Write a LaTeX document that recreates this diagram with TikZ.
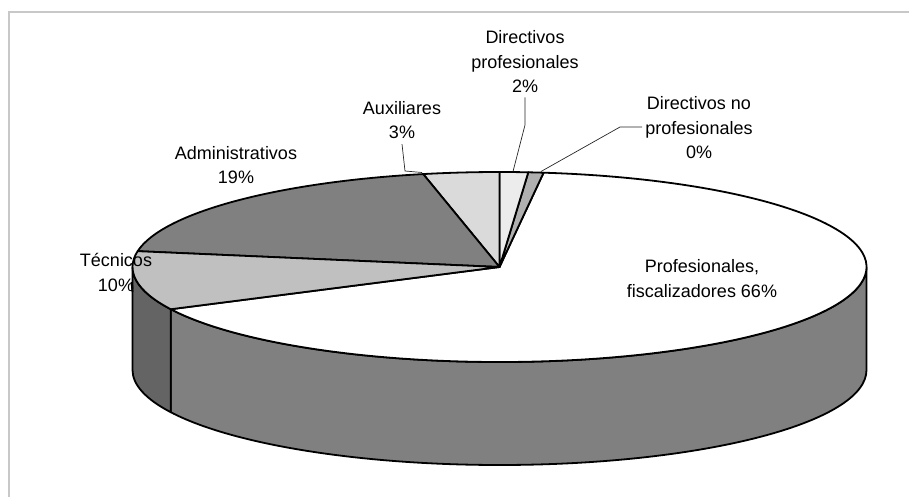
\documentclass[tikz,border=0pt]{standalone}
\usepackage{fontspec}
\setmainfont{Liberation Sans}
\definecolor{framegray}{RGB}{200,200,200}
\definecolor{admin}{RGB}{128,128,128}
\definecolor{tec}{RGB}{192,192,192}
\definecolor{aux}{RGB}{218,218,218}
\definecolor{dirp}{RGB}{236,236,236}
\definecolor{dirn}{RGB}{176,176,176}
\definecolor{sideprof}{RGB}{128,128,128}
\definecolor{sidetec}{RGB}{100,100,100}
\begin{document}
\begin{tikzpicture}[x=1pt,y=1pt,
  slice/.style={draw=black, line width=1.8pt, line join=round},
  lbl/.style={align=center, font=\fontsize{18}{24.5}\selectfont, inner sep=0pt, text=black},
  leader/.style={draw=black!85, line width=0.7pt},
  ell/.style={x radius=367pt, y radius=95pt}]
\useasboundingbox (0,0) rectangle (909,496);
\draw[line width=2.5pt, framegray] (9,-5) -- (9,484) -- (915,484);

\begin{scope}[shift={(499.5,229)}]
  % side walls
  \filldraw[slice, fill=sideprof] (206.4:367pt and 95pt) arc[start angle=206.4, end angle=360, ell]
    -- ++(0,-103) arc[start angle=360, end angle=206.4, ell] -- cycle;
  \filldraw[slice, fill=sidetec] (180:367pt and 95pt) arc[start angle=180, end angle=206.4, ell]
    -- ++(0,-103) arc[start angle=206.4, end angle=180, ell] -- cycle;
  % top slices
  \filldraw[slice, fill=white] (0,0) -- (-153.6:367pt and 95pt) arc[start angle=-153.6, end angle=83.1, ell] -- cycle;
  \filldraw[slice, fill=dirn] (0,0) -- (83.1:367pt and 95pt) arc[start angle=83.1, end angle=85.5, ell] -- cycle;
  \filldraw[slice, fill=dirp] (0,0) -- (85.5:367pt and 95pt) arc[start angle=85.5, end angle=90, ell] -- cycle;
  \filldraw[slice, fill=aux] (0,0) -- (90:367pt and 95pt) arc[start angle=90, end angle=102, ell] -- cycle;
  \filldraw[slice, fill=admin] (0,0) -- (102:367pt and 95pt) arc[start angle=102, end angle=170.4, ell] -- cycle;
  \filldraw[slice, fill=tec] (0,0) -- (170.4:367pt and 95pt) arc[start angle=170.4, end angle=206.4, ell] -- cycle;
\end{scope}

% labels
\node[lbl] (ldirp) at (525,434) {Directivos\\profesionales\\2\%};
\node[lbl] (laux) at (402,376) {Auxiliares\\3\%};
\node[lbl] (ladm) at (236,331) {Administrativos\\19\%};
\node[lbl] (ltec) at (116,223.5) {Técnicos\\10\%};
\node[lbl] (ldirn) at (699,368) {Directivos no\\profesionales\\0\%};
\node[lbl] (lprof) at (702,217.5) {Profesionales,\\fiscalizadores 66\%};

% leader lines
\coordinate (auxbend) at (405,325);
\coordinate (auxend) at (422,323.5);
\coordinate (dpbend) at (525,371);
\coordinate (dpend) at (513,324.5);
\coordinate (dnstart) at (642,369);
\coordinate (dnbend) at (620,369);
\coordinate (dnend) at (541,324.5);
\coordinate (tecstart) at (131.5,214);
\coordinate (tecend) at (132.5,204);
\draw[leader] ([yshift=-5pt]laux.south) -- (auxbend) -- (auxend);
\draw[leader] ([yshift=-4pt]ldirp.south) -- (dpbend) -- (dpend);
\draw[leader] (dnstart) -- (dnbend) -- (dnend);
\draw[line width=1.8pt] (tecstart) -- (tecend);
\end{tikzpicture}
\end{document}
